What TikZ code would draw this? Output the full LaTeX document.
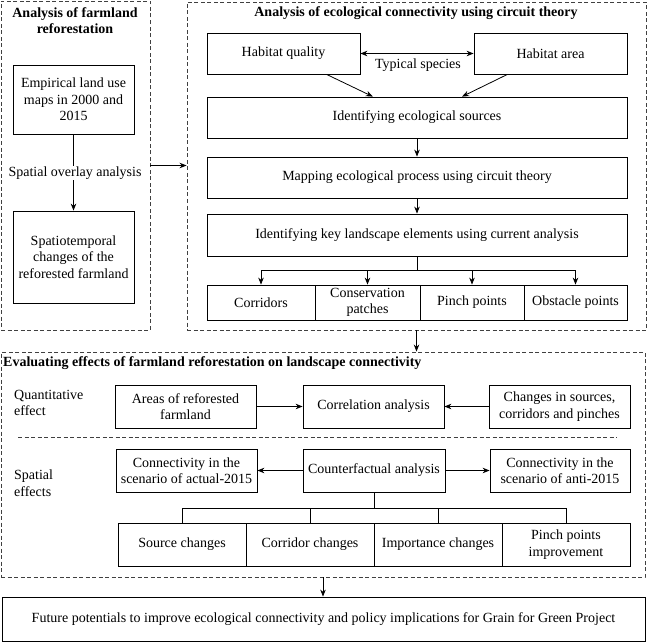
\documentclass[tikz,border=0pt]{standalone}
\usepackage{fontspec}
\setmainfont{Liberation Serif}
\usetikzlibrary{arrows.meta,calc}
\begin{document}
\begin{tikzpicture}[x=1pt,y=-1pt,
  box/.style={draw=black,line width=0.8pt,align=center,inner sep=2pt,font=\fontsize{14}{16.5}\selectfont},
  dbox/.style={draw=black!75,line width=0.9pt,dash pattern=on 4pt off 2.5pt},
  ttl/.style={font=\fontsize{14}{16}\selectfont\bfseries,align=center,inner sep=0pt},
  lbl/.style={font=\fontsize{14}{16.5}\selectfont,inner sep=1pt},
  arr/.style={line width=0.8pt,-{Stealth[length=7pt,width=5.5pt]}},
  ln/.style={line width=0.8pt}]
\useasboundingbox (0,0) rectangle (650,642);
% containers
\node[dbox,minimum width=149pt,minimum height=329pt] (L) at (75.5,165.5) {};
\node[dbox,minimum width=459pt,minimum height=328pt] (R) at (416.5,166) {};
\node[dbox,minimum width=644pt,minimum height=225pt] (B) at (323,464.5) {};
% left
\node[ttl] (Lt) at (75,21) {Analysis of farmland\\reforestation};
\node[box,minimum width=121pt,minimum height=69pt] (emp) at (73.5,99.5) {Empirical land use\\maps in 2000 and\\2015};
\node[box,minimum width=121pt,minimum height=92pt] (spt) at (73.5,257) {Spatiotemporal\\changes of the\\reforested farmland};
\draw[arr] (emp) -- (spt);
\node[lbl,fill=white] (sov) at (75,173) {Spatial overlay analysis};
% right
\node[ttl] (Rt) at (416,13) {Analysis of ecological connectivity using circuit theory};
\node[box,minimum width=153pt,minimum height=41pt] (hq) at (283.5,53.5) {Habitat quality};
\node[box,minimum width=153pt,minimum height=41pt] (ha) at (550.5,53.5) {Habitat area};
\draw[line width=0.8pt,{Stealth[length=7pt,width=5.5pt]}-{Stealth[length=7pt,width=5.5pt]}] (hq) -- (ha);
\node[lbl] (ts) at (418,65) {Typical species};
\node[box,minimum width=420pt,minimum height=41pt] (src) at (417,117.5) {Identifying ecological sources};
\node[box,minimum width=420pt,minimum height=41pt] (map) at (417,177.5) {Mapping ecological process using circuit theory};
\node[box,minimum width=420pt,minimum height=42pt] (key) at (417,235) {Identifying key landscape elements using current analysis};
\draw[arr] ($(hq.south west)!0.78!(hq.south east)$) -- ($(src.north west)!0.395!(src.north east)$);
\draw[arr] ($(ha.south west)!0.22!(ha.south east)$) -- ($(src.north west)!0.607!(src.north east)$);
\draw[arr] (src) -- (map);
\draw[arr] (map) -- (key);
\node[box,minimum width=108pt,minimum height=35pt] (cor) at (261,302.5) {Corridors};
\node[box,minimum width=105pt,minimum height=35pt] (con) at (367.5,302.5) {Conservation\\patches};
\node[box,minimum width=104pt,minimum height=35pt] (pin) at (472,302.5) {Pinch points};
\node[box,minimum width=103pt,minimum height=35pt] (obs) at (575.5,302.5) {Obstacle points};
\coordinate (j) at ($(key.south)+(0,14)$);
\draw[ln] (key.south) -- (j);
\draw[ln] (cor.north |- j) -- (obs.north |- j);
\foreach \n in {cor,con,pin,obs} \draw[arr] (\n.north |- j) -- (\n.north);
% connections between containers
\draw[arr] (L.east) -- (L.east -| R.west);
\draw[arr] (R.south) -- (R.south |- B.north);
% bottom
\node[ttl,anchor=west] (Bt) at (3,363) {Evaluating effects of farmland reforestation on landscape connectivity};
\node[lbl,anchor=west,align=left] (qe) at (13,403) {Quantitative\\effect};
\node[box,minimum width=141pt,minimum height=43pt] (are) at (185.5,406.5) {Areas of reforested\\farmland};
\node[box,minimum width=141pt,minimum height=43pt] (cra) at (373.5,406.5) {Correlation analysis};
\node[box,minimum width=141pt,minimum height=43pt] (chg) at (559.5,406.5) {Changes in sources,\\corridors and pinches};
\draw[arr] (are) -- (cra);
\draw[arr] (chg) -- (cra);
\coordinate (s1) at (18,437);
\coordinate (s2) at (617,437);
\draw[dbox] (s1) -- (s2);
\node[lbl,anchor=west,align=left] (se) at (13,483) {Spatial\\effects};
\node[box,minimum width=141pt,minimum height=43pt] (act) at (186.5,470.5) {Connectivity in the\\scenario of actual-2015};
\node[box,minimum width=142pt,minimum height=43pt] (cf) at (374,470.5) {Counterfactual analysis};
\node[box,minimum width=140pt,minimum height=43pt] (ant) at (560,470.5) {Connectivity in the\\scenario of anti-2015};
\draw[arr] (cf) -- (act);
\draw[arr] (cf) -- (ant);
\node[box,minimum width=128pt,minimum height=43pt] (sc) at (182,544.5) {Source changes};
\node[box,minimum width=128pt,minimum height=43pt] (cc) at (310,544.5) {Corridor changes};
\node[box,minimum width=128pt,minimum height=43pt] (ic) at (438,544.5) {Importance changes};
\node[box,minimum width=128pt,minimum height=43pt] (pp) at (566,544.5) {Pinch points\\improvement};
\coordinate (k) at ($(cf.south)+(0,16)$);
\draw[ln] (cf.south) -- (k);
\draw[ln] (sc.north |- k) -- (pp.north |- k);
\foreach \n in {sc,cc,ic,pp} \draw[ln] (\n.north |- k) -- (\n.north);
% final
\node[box,minimum width=643pt,minimum height=44pt] (fin) at (323.5,619) {Future potentials to improve ecological connectivity and policy implications for Grain for Green Project};
\draw[arr] (B.south) -- (B.south |- fin.north);
\end{tikzpicture}
\end{document}
